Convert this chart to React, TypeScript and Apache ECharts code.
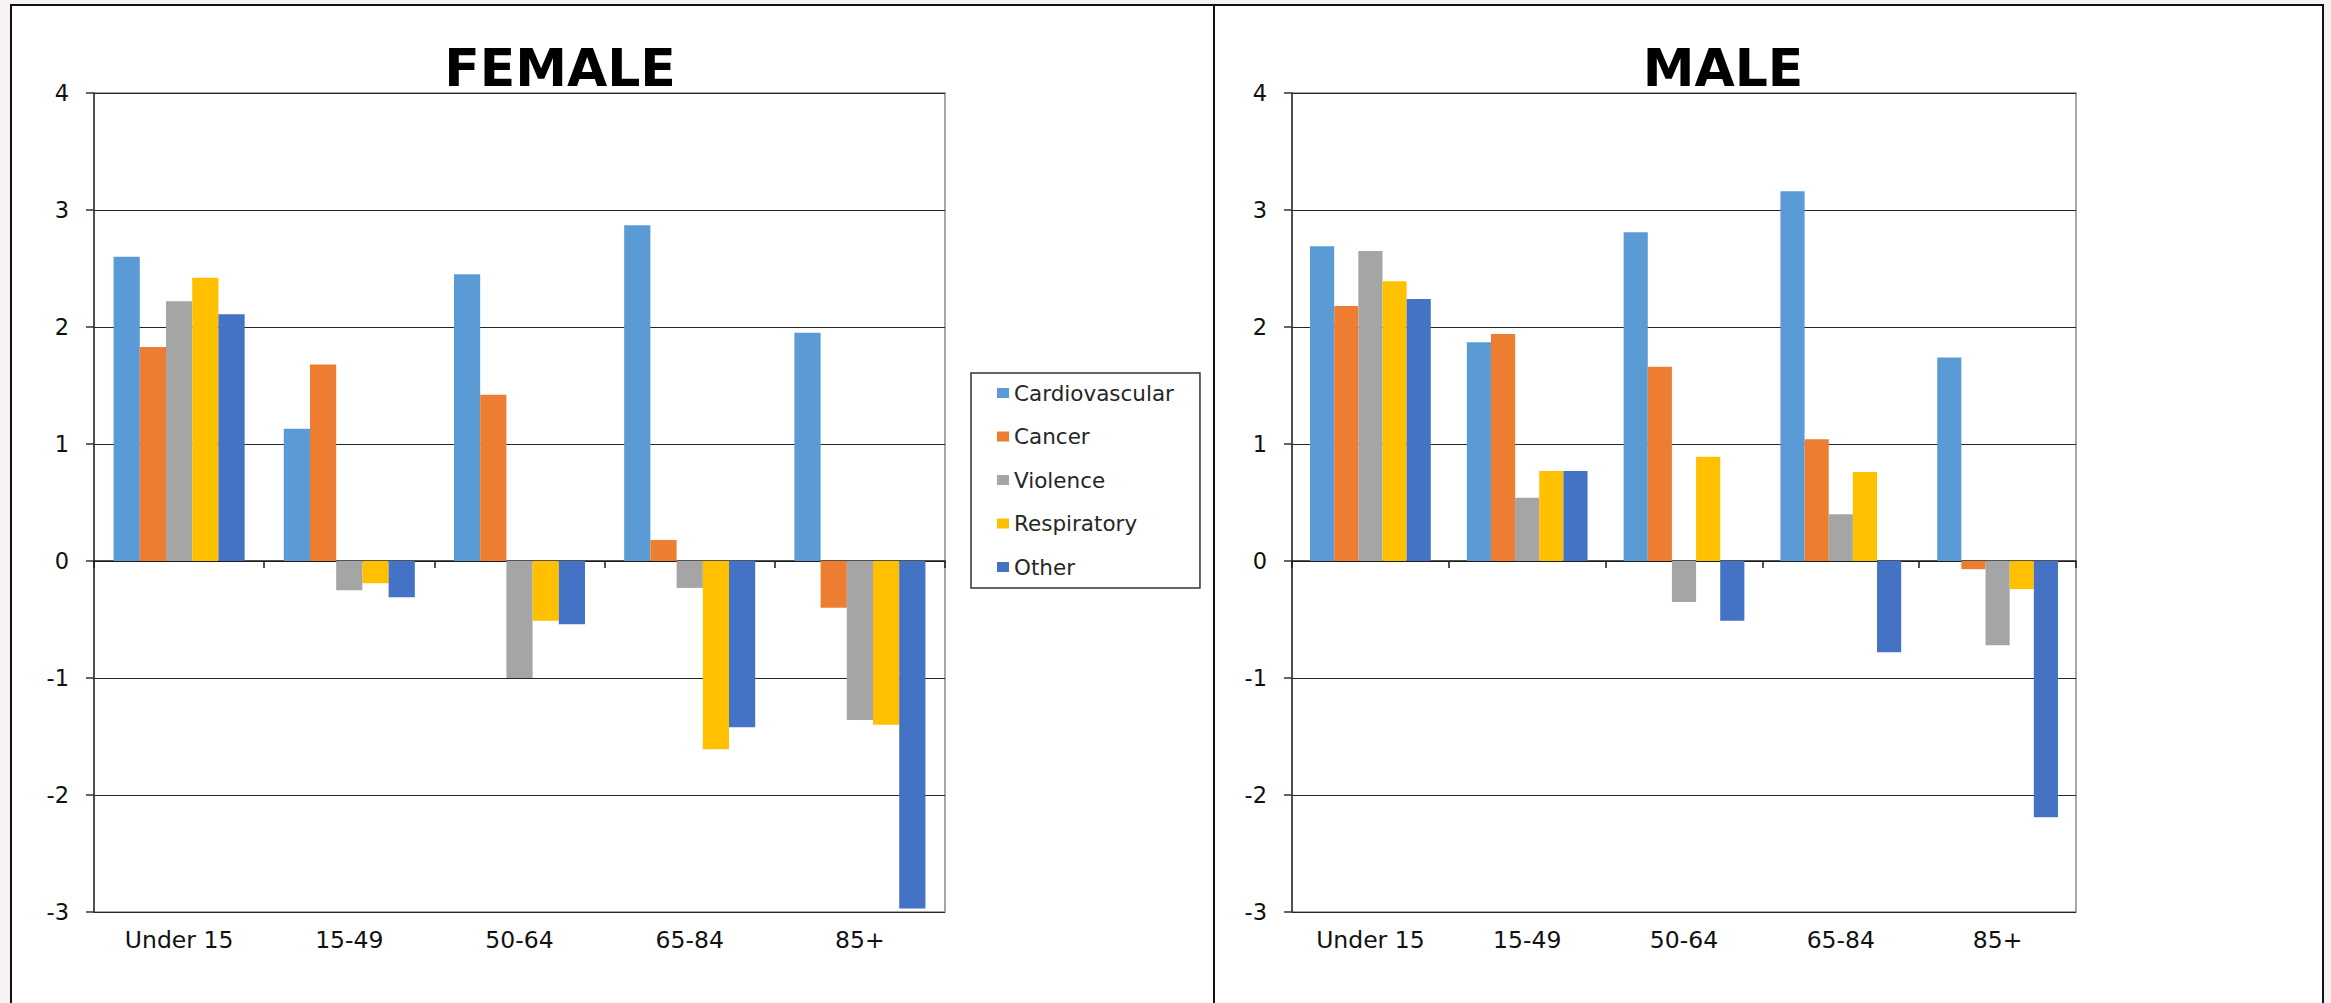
import React, { useEffect, useRef } from "react";
import * as echarts from "echarts";

// Age bands shown on both panels
const categories = ["Under 15", "15-49", "50-64", "65-84", "85+"];

// Cause-of-death groups and their bar colours
const causeNames = ["Cardiovascular", "Cancer", "Violence", "Respiratory", "Other"];
const causeColors = ["#5B9BD5", "#ED7D31", "#A5A5A5", "#FFC000", "#4472C4"];

// Female panel values per age band
const femaleCardiovascular = [2.6, 1.13, 2.45, 2.87, 1.95];
const femaleCancer = [1.83, 1.68, 1.42, 0.18, -0.4];
const femaleViolence = [2.22, -0.25, -1.0, -0.23, -1.36];
const femaleRespiratory = [2.42, -0.19, -0.51, -1.61, -1.4];
const femaleOther = [2.11, -0.31, -0.54, -1.42, -2.97];

// Male panel values per age band
const maleCardiovascular = [2.69, 1.87, 2.81, 3.16, 1.74];
const maleCancer = [2.18, 1.94, 1.66, 1.04, -0.07];
const maleViolence = [2.65, 0.54, -0.35, 0.4, -0.72];
const maleRespiratory = [2.39, 0.77, 0.89, 0.76, -0.24];
const maleOther = [2.24, 0.77, -0.51, -0.78, -2.19];

// Value axis range
const yMin = -3;
const yMax = 4;
const yStep = 1;

const panelTitles = ["FEMALE", "MALE"];

const FONT = "'DejaVu Sans', 'Liberation Sans', Arial, sans-serif";
const TEXT_COLOR = "#111";

const femaleSeries = [femaleCardiovascular, femaleCancer, femaleViolence, femaleRespiratory, femaleOther];
const maleSeries = [maleCardiovascular, maleCancer, maleViolence, maleRespiratory, maleOther];

function buildXAxes(gridIndex: number) {
  return [
    // bottom axis carrying the category labels
    {
      type: "category",
      gridIndex,
      data: categories,
      position: "bottom",
      axisLine: { show: false, onZero: false },
      axisTick: { show: false },
      axisLabel: { margin: 16, fontSize: 23.5, fontFamily: FONT, color: TEXT_COLOR },
      splitLine: { show: false },
    },
    // axis line drawn through zero with boundary ticks
    {
      type: "category",
      gridIndex,
      data: categories,
      position: "bottom",
      axisLine: { show: true, onZero: true, lineStyle: { color: "#1a1a1a", width: 1.5 } },
      axisTick: { show: true, length: 7, lineStyle: { color: "#1a1a1a", width: 1.5 } },
      axisLabel: { show: false },
      splitLine: { show: false },
    },
  ];
}

function buildYAxis(gridIndex: number) {
  return {
    type: "value",
    gridIndex,
    min: yMin,
    max: yMax,
    interval: yStep,
    axisLine: { show: true, onZero: false, lineStyle: { color: "#333", width: 1.5 } },
    axisTick: { show: true, length: 8, lineStyle: { color: "#333", width: 1.5 } },
    axisLabel: { margin: 25, fontSize: 22.5, fontFamily: FONT, color: TEXT_COLOR },
    splitLine: { show: true, lineStyle: { color: "#262626", width: 1.2 } },
  };
}

function buildSeries(values: number[][], xAxisIndex: number, yAxisIndex: number) {
  return values.map((data, i) => ({
    type: "bar",
    name: causeNames[i],
    xAxisIndex,
    yAxisIndex,
    data,
    barGap: "0%",
    barCategoryGap: "23%",
    itemStyle: { color: causeColors[i] },
  }));
}

export default function App() {
  const ref = useRef<HTMLDivElement>(null);

  useEffect(() => {
    if (!ref.current) return;
    const chart = echarts.init(ref.current, null, { renderer: "svg" });

    const option = {
      animation: false,
      backgroundColor: "#f6f2f1",
      color: causeColors,
      graphic: [
        {
          type: "rect",
          z: -10,
          shape: { x: 11, y: 5, width: 2312, height: 1030 },
          style: { fill: "#ffffff", stroke: "#111", lineWidth: 2 },
        },
        {
          type: "line",
          z: -9,
          shape: { x1: 1214, y1: 5, x2: 1214, y2: 1010 },
          style: { stroke: "#111", lineWidth: 2 },
        },
      ],
      title: [
        {
          text: panelTitles[0],
          left: 555,
          top: 37,
          textAlign: "center",
          textStyle: { fontSize: 52, fontWeight: "bold", fontFamily: FONT, color: "#000" },
        },
        {
          text: panelTitles[1],
          left: 1718,
          top: 37,
          textAlign: "center",
          textStyle: { fontSize: 52, fontWeight: "bold", fontFamily: FONT, color: "#000" },
        },
      ],
      legend: {
        data: causeNames,
        orient: "vertical",
        left: 971,
        top: 373,
        icon: "rect",
        itemWidth: 12,
        itemHeight: 10,
        itemGap: 21.5,
        padding: [9, 26, 10, 26],
        backgroundColor: "#fff",
        borderColor: "#333",
        borderWidth: 1.5,
        borderRadius: 0,
        textStyle: { fontSize: 21.5, lineHeight: 22, fontFamily: FONT, color: "#262626" },
      },
      grid: [
        { left: 94, top: 93, width: 851, height: 819, show: true, borderColor: "#8a8a8a", borderWidth: 1.5, backgroundColor: "transparent" },
        { left: 1292, top: 93, width: 784, height: 819, show: true, borderColor: "#8a8a8a", borderWidth: 1.5, backgroundColor: "transparent" },
      ],
      xAxis: [...buildXAxes(0), ...buildXAxes(1)],
      yAxis: [buildYAxis(0), buildYAxis(1)],
      series: [...buildSeries(femaleSeries, 0, 0), ...buildSeries(maleSeries, 2, 1)],
    };

    chart.setOption(option as any);
    return () => {
      chart.dispose();
    };
  }, []);

  return (
    <div
      ref={ref}
      style={{ position: "absolute", left: 0, top: 0, width: 2331, height: 1003 }}
    />
  );
}
